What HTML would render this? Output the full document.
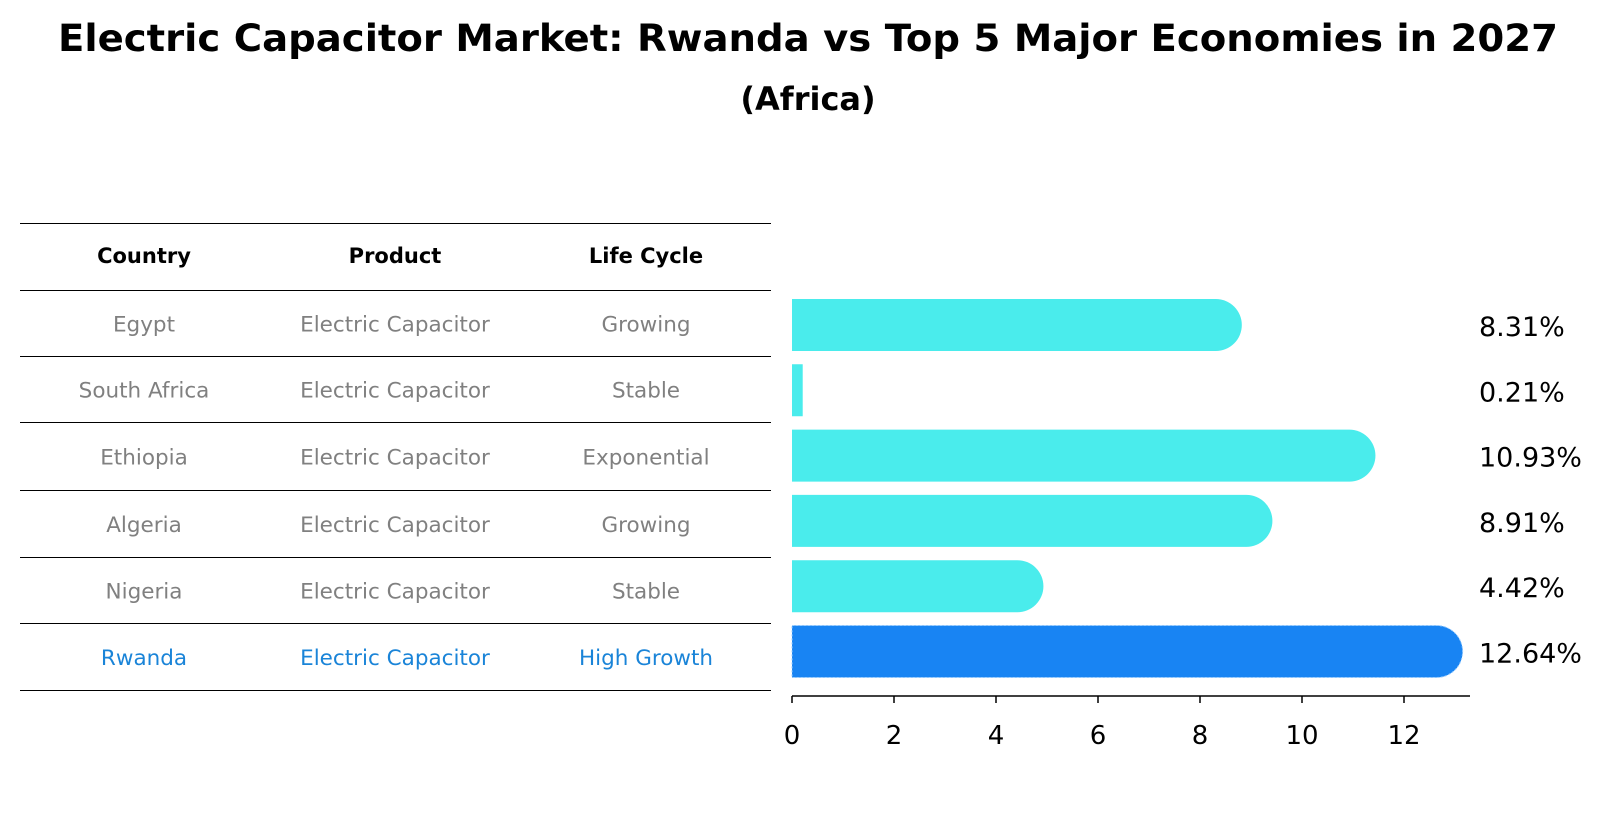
<!DOCTYPE html>
<html><head><meta charset="utf-8"><style>
body{margin:0;background:#fff;font-family:"DejaVu Sans","Liberation Sans",sans-serif;}
</style></head><body>
<svg width="1604" height="823" xmlns="http://www.w3.org/2000/svg" font-family="DejaVu Sans, Liberation Sans, sans-serif" id="chart">
<text x="808" y="51" text-anchor="middle" font-size="37" font-weight="bold" textLength="1500" lengthAdjust="spacingAndGlyphs">Electric Capacitor Market: Rwanda vs Top 5 Major Economies in 2027</text>
<text x="808" y="110" text-anchor="middle" font-size="32" font-weight="bold">(Africa)</text>
<g id="table"></g>
<g id="bars"></g>
</svg>
<script>
const countries=["Egypt","South Africa","Ethiopia","Algeria","Nigeria","Rwanda"];
const products=["Electric Capacitor","Electric Capacitor","Electric Capacitor","Electric Capacitor","Electric Capacitor","Electric Capacitor"];
const lifeCycles=["Growing","Stable","Exponential","Growing","Stable","High Growth"];
const values=[8.31,0.21,10.93,8.91,4.42,12.64];
const xTicks=[0,2,4,6,8,10,12];
const NS="http://www.w3.org/2000/svg";
function mk(tag,attrs,parent){const e=document.createElementNS(NS,tag);for(const k in attrs)e.setAttribute(k,attrs[k]);parent.appendChild(e);return e;}
const tbl=document.getElementById('table');
const lineYs=[223.5,290.5,356.5,422.5,490.5,557.5,623.5,690.5];
lineYs.forEach((y,i)=>{const l=mk('line',{x1:20,x2:771,y1:y,y2:y,stroke:'#000','stroke-width':1},tbl);

});
const colX=[144,395,646];
const heads=["Country","Product","Life Cycle"];
heads.forEach((h,i)=>{const t=mk('text',{x:colX[i],y:263,'text-anchor':'middle','font-size':21,'font-weight':'bold'},tbl);t.textContent=h;

});
const x0=792,unit=51,barH=52;
function xs(v){return x0+v*unit;}
function rowY(i){return 325+i*65.3;}
countries.forEach((c,i)=>{
 const col=i===countries.length-1?'#1a84d8':'#808080';
 const cy=(lineYs[i+1]+lineYs[i+2])/2+8;
 [c,products[i],lifeCycles[i]].forEach((s,j)=>{const t=mk('text',{x:colX[j],y:cy,'text-anchor':'middle','font-size':21.5,fill:col},tbl);t.textContent=s;
 
 });
});
const bars=document.getElementById('bars');
values.forEach((v,i)=>{
 const col=i===values.length-1?'#1884f3':'#4aecec';
 const y=rowY(i);const w=xs(v)-x0;const r=barH/2;
 let d;
 if(w>r){d=`M${x0},${y-r}H${xs(v)}A${r},${r} 0 0 1 ${xs(v)},${y+r}H${x0}Z`;}
 else{d=`M${x0},${y-r}H${xs(v)}V${y+r}H${x0}Z`;}
 const p=mk('path',{d:d,fill:col},bars);
 if(i===values.length-1){p.setAttribute('stroke','#9fd0ff');p.setAttribute('stroke-dasharray','2 2');p.setAttribute('stroke-width','1');}
 
 
 const t=mk('text',{x:1479,y:y+11,'font-size':27},bars);t.textContent=v.toFixed(2)+'%';
 
 
});
const ax=mk('line',{x1:x0,x2:1470,y1:696,y2:696,stroke:'#000','stroke-width':1.5},bars);


xTicks.forEach(v=>{const tl=mk('line',{x1:xs(v),x2:xs(v),y1:696,y2:703,stroke:'#000','stroke-width':1.5},bars);
 
 
 const t=mk('text',{x:xs(v),y:744,'text-anchor':'middle','font-size':26},bars);t.textContent=v;
 
 });
</script>
</body></html>
